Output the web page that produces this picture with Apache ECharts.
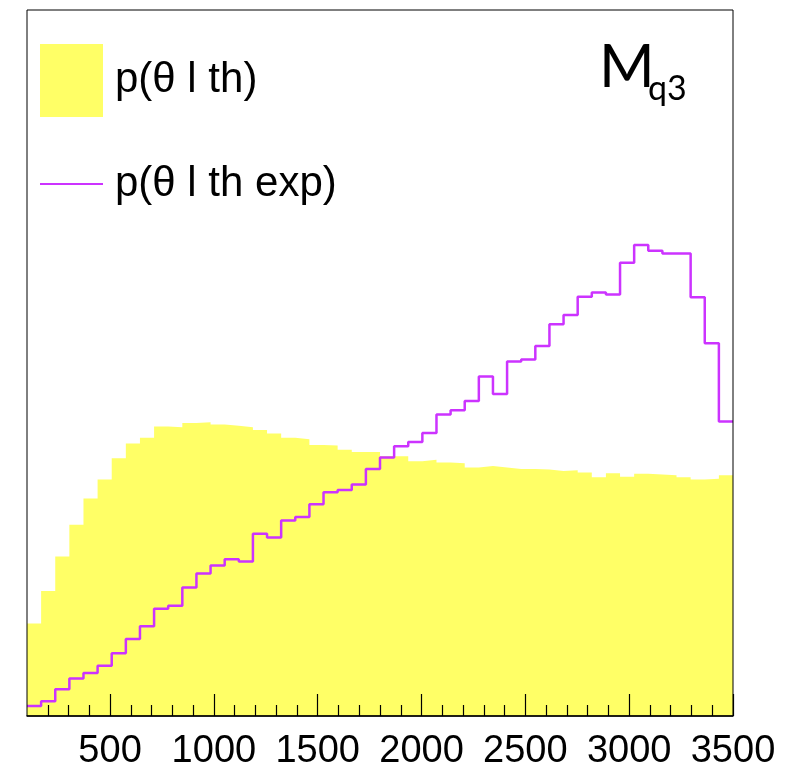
<!DOCTYPE html>
<html>
<head>
<meta charset="utf-8">
<script src="https://cdn.jsdelivr.net/npm/echarts@6/dist/echarts.min.js"></script>
<style>
html,body{margin:0;padding:0;background:#fff;}
#main{width:803px;height:771px;}
</style>
</head>
<body>
<div id="main"></div>
<script>
// 直方图分箱: 50 bins, 100 - 3500
var binLow = 100;
var binWidth = 68;

// p(θ l th) 每个bin的高度 (相对单位)
var thValues = [13.1,17.7,22.6,27.1,30.8,33.5,36.5,38.6,39.4,41.0,
	40.9,41.5,41.6,41.3,41.1,40.9,40.5,40.0,39.4,39.2,
	38.4,38.3,37.7,37.4,37.4,36.8,36.8,36.1,36.3,35.9,
	35.8,35.2,35.4,35.2,35.0,35.0,34.9,34.7,34.8,34.5,
	33.8,34.4,33.9,34.3,34.2,34.1,33.8,33.5,33.6,34.1];

// p(θ l th exp)
var expValues = [1.4,2.1,3.8,5.3,6.1,7.1,8.9,10.9,12.7,15.2,
	15.6,18.2,20.2,21.3,22.2,21.9,25.8,25.3,27.7,28.2,
	30.0,31.7,32.0,32.8,35.0,36.6,38.2,38.8,40.1,42.7,
	43.3,44.6,48.1,45.6,50.2,50.5,52.4,55.5,56.8,59.4,
	60.0,59.7,64.2,66.7,65.9,65.5,65.5,59.3,52.8,41.7];

// x轴刻度
var majorTicks = [500,1000,1500,2000,2500,3000,3500];
var minorTicks = [];
for (var t = 200; t < 3500; t += 100) {
	if (t % 500 != 0) minorTicks.push(t);
}

var nameTh = 'p(θ l th)';
var nameExp = 'p(θ l th exp)';

// 转成阶梯线的点: 每个bin左边界 + 最后的右边界
function toSteps(values) {
	var pts = [];
	for (var i = 0; i < values.length; i++) {
		pts.push([binLow + i * binWidth, values[i]]);
	}
	pts.push([binLow + values.length * binWidth, values[values.length - 1]]);
	return pts;
}

var font = 'Liberation Sans, Arial, sans-serif';

var myChart = echarts.init(document.getElementById('main'));
var option = {
	animation: false,
	grid: {
		left: 27, right: 70, top: 10, bottom: 54,
		show: true, borderColor: '#000', borderWidth: 1, z: 5
	},
	legend: [{
		data: [nameTh], left: 40, top: 44, padding: 0, orient: 'vertical',
		icon: 'rect', itemWidth: 63, itemHeight: 73, selectedMode: false,
		textStyle: { fontSize: 42, fontFamily: font, color: '#000', padding: [4, 0, 0, 7] }
	}, {
		data: [nameExp], left: 40, top: 163, padding: 0, orient: 'vertical',
		icon: 'rect', itemWidth: 63, itemHeight: 2, selectedMode: false,
		textStyle: { fontSize: 42, fontFamily: font, color: '#000', padding: [4, 0, 0, 7] }
	}],
	xAxis: [{
		type: 'value', min: 100, max: 3500, z: 10,
		axisLine: { show: true, lineStyle: { color: '#000', width: 1.5 } },
		axisTick: { show: true, inside: true, length: 22, customValues: majorTicks, lineStyle: { color: '#000', width: 1.2 } },
		axisLabel: {
			customValues: majorTicks, fontSize: 38, fontFamily: font, color: '#000', margin: 17,
			formatter: function (v) { return String(v); }
		},
		splitLine: { show: false }
	}, {
		type: 'value', min: 100, max: 3500, z: 10, position: 'bottom',
		axisLine: { show: false },
		axisTick: { show: true, inside: true, length: 11, customValues: minorTicks, lineStyle: { color: '#000', width: 1.2 } },
		axisLabel: { show: false },
		splitLine: { show: false }
	}],
	yAxis: { type: 'value', min: 0, max: 100, show: false },
	series: [{
		name: nameTh, type: 'line', step: 'end', xAxisIndex: 0,
		data: toSteps(thValues), showSymbol: false, color: '#ffff66',
		lineStyle: { width: 0 },
		areaStyle: { color: '#ffff66', opacity: 1 }
	}, {
		name: nameExp, type: 'line', step: 'end', xAxisIndex: 0,
		data: toSteps(expValues), showSymbol: false, color: '#cc33ff',
		lineStyle: { width: 2.5, color: '#cc33ff' }
	}],
	graphic: [{
		type: 'text', left: 599, top: 38, z: 20,
		style: { text: 'M', font: '60px Lato, sans-serif', fill: '#000' }
	}, {
		type: 'text', left: 648, top: 72, z: 20,
		style: { text: 'q3', font: '34px Lato, sans-serif', fill: '#000' }
	}]
};
myChart.setOption(option);
</script>
</body>
</html>
